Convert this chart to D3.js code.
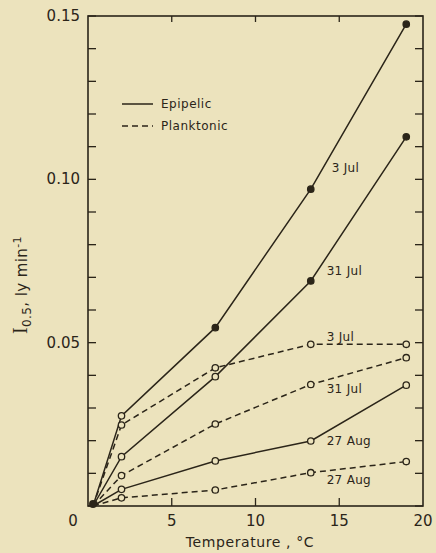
<!DOCTYPE html>
<html><head><meta charset="utf-8">
<script src="https://cdn.jsdelivr.net/npm/d3@7"></script>
<style>
body{margin:0;background:#ece3bd;}
svg{display:block;}
text{font-family:"DejaVu Sans","Lato",sans-serif;fill:#2b2519;}
</style></head><body>
<svg id="c" width="436" height="553"></svg>
<script>
const temps = [0.3, 2.0, 7.6, 13.3, 19.0];
const seriesNames = ["Epipelic 3 Jul","Epipelic 31 Jul","Epipelic 27 Aug","Planktonic 3 Jul","Planktonic 31 Jul","Planktonic 27 Aug"];
const seriesType = ["Epipelic","Epipelic","Epipelic","Planktonic","Planktonic","Planktonic"];
const seriesLabel = ["3 Jul","31 Jul","27 Aug","3 Jul","31 Jul","27 Aug"];
const epi3Jul = [0, 0.0276, 0.0546, 0.0970, 0.1475];
const epi31Jul = [0, 0.0151, 0.0396, 0.0689, 0.1130];
const epi27Aug = [0, 0.0051, 0.0138, 0.0199, 0.0370];
const pla3Jul = [0, 0.0248, 0.0423, 0.0495, 0.0495];
const pla31Jul = [0, 0.0093, 0.0251, 0.0372, 0.0454];
const pla27Aug = [0, 0.0025, 0.0049, 0.0102, 0.0136];
const filled = [[1,0,1,1,1],[1,0,0,1,1],[1,0,0,0,0],[1,0,0,0,0],[1,0,0,0,0],[1,0,0,0,0]];
const xTicks = [0,5,10,15,20];
const xTickLabels = ["","5","10","15","20"];
const yTicks = [0.05,0.10,0.15];
const yTickLabels = ["0.05","0.10","0.15"];
const yMinor = d3.range(0,0.1501,0.01);
const labelPos = [[14.55,0.1035],[14.25,0.0720],[14.25,0.0198],[14.25,0.0518],[14.25,0.0358],[14.25,0.0079]];

const allSeries = [epi3Jul, epi31Jul, epi27Aug, pla3Jul, pla31Jul, pla27Aug];
const ink = "#2b2519";
const svg = d3.select("#c");
const x = d3.scaleLinear().domain([0,20]).range([88,423]);
const y = d3.scaleLinear().domain([0,0.15]).range([506,16]);

const g = svg.append("g");
g.append("rect").attr("x",x(0)).attr("y",y(0.15)).attr("width",x(20)-x(0)).attr("height",y(0)-y(0.15))
 .attr("fill","none").attr("stroke",ink).attr("stroke-width",1.6);

yMinor.forEach(v=>{
  g.append("line").attr("x1",x(0)).attr("x2",x(0)+8).attr("y1",y(v)).attr("y2",y(v)).attr("stroke",ink).attr("stroke-width",1.3);
  g.append("line").attr("x1",x(20)).attr("x2",x(20)-8).attr("y1",y(v)).attr("y2",y(v)).attr("stroke",ink).attr("stroke-width",1.3);
});
[5,10,15].forEach(v=>{
  g.append("line").attr("x1",x(v)).attr("x2",x(v)).attr("y1",y(0)).attr("y2",y(0)-8).attr("stroke",ink).attr("stroke-width",1.3);
  g.append("line").attr("x1",x(v)).attr("x2",x(v)).attr("y1",y(0.15)).attr("y2",y(0.15)+6).attr("stroke",ink).attr("stroke-width",1.3);
});
xTicks.forEach((v,i)=>{
  if(xTickLabels[i]) g.append("text").attr("x",x(v)).attr("y",y(0)+20).attr("text-anchor","middle").attr("font-size",15).text(xTickLabels[i]);
});
g.append("text").attr("x",73).attr("y",y(0)+20).attr("text-anchor","middle").attr("font-size",15).text("0");
yTicks.forEach((v,i)=>{
  g.append("text").attr("x",80).attr("y",y(v)+5).attr("text-anchor","end").attr("font-size",15).text(yTickLabels[i]);
});
g.append("text").attr("x",250).attr("y",547).attr("text-anchor","middle").attr("font-size",14).attr("letter-spacing",0.6).text("Temperature , °C");
const yl = g.append("text").attr("transform","translate(27,285) rotate(-90)").attr("text-anchor","middle").attr("font-size",15).attr("letter-spacing",0.4);
yl.append("tspan").attr("font-family","Liberation Serif, serif").attr("font-size",20).text("I");
yl.append("tspan").attr("font-size",12).attr("dy",4).text("0.5");
yl.append("tspan").attr("dy",-4).text(", ly min");
yl.append("tspan").attr("font-size",11).attr("dy",-6).text("-1");

const line = d3.line().x((d,i)=>x(temps[i])).y(d=>y(d));
allSeries.forEach((s,k)=>{
  g.append("path").attr("d",line(s)).attr("fill","none").attr("stroke",ink).attr("stroke-width",1.5)
   .attr("stroke-dasharray", seriesType[k]==="Planktonic" ? "6,4" : null);
});
allSeries.forEach((s,k)=>{
  s.forEach((v,i)=>{
    if(i===0) return;
    g.append("circle").attr("cx",x(temps[i])).attr("cy",y(v)).attr("r",3.2)
     .attr("fill", filled[k][i] ? ink : "#ece3bd").attr("stroke",ink).attr("stroke-width",1.3);
  });
});
g.append("circle").attr("cx",x(temps[0])).attr("cy",y(0)-2).attr("r",4).attr("fill",ink);

seriesLabel.forEach((t,k)=>{
  g.append("text").attr("x",x(labelPos[k][0])).attr("y",y(labelPos[k][1])+4).attr("font-size",12).attr("letter-spacing",0.3).text(t);
});

g.append("line").attr("x1",122).attr("x2",153).attr("y1",104).attr("y2",104).attr("stroke",ink).attr("stroke-width",1.5);
g.append("text").attr("x",161).attr("y",108).attr("font-size",12).attr("letter-spacing",0.5).text("Epipelic");
g.append("line").attr("x1",122).attr("x2",153).attr("y1",126).attr("y2",126).attr("stroke",ink).attr("stroke-width",1.5).attr("stroke-dasharray","6,4");
g.append("text").attr("x",161).attr("y",130).attr("font-size",12).attr("letter-spacing",0.5).text("Planktonic");
</script></body></html>
